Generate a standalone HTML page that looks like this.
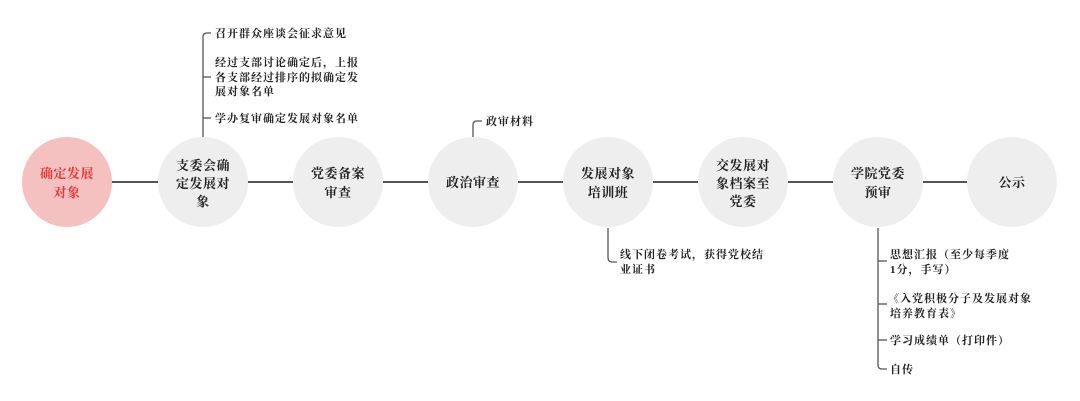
<!DOCTYPE html>
<html><head><meta charset="utf-8"><style>
html,body{margin:0;padding:0;background:#fff;}
svg{display:block;}
text{font-family:"Liberation Serif","Noto Serif CJK SC",serif;}
.n{font-size:13px;font-weight:bold;fill:#222;text-anchor:middle;letter-spacing:0.5px;}
.l{font-size:11px;fill:#222;letter-spacing:1px;font-weight:bold;}
</style></head><body>
<svg width="1080" height="401" viewBox="0 0 1080 401">
<g stroke="#555" stroke-width="2" fill="none">
<line x1="67" y1="182" x2="1012" y2="182"/>
</g>
<g stroke="#555" stroke-width="1.3" fill="none">
<path d="M203 137 V37 Q203 33 207 33 H211"/>
<path d="M203 77 H211"/>
<path d="M203 118 H211"/>
<path d="M473 137 V125 Q473 121 477 121 H482"/>
<path d="M608 228 V257 Q608 262 612 262 H617"/>
<path d="M878 228 V365 Q878 369 882 369 H887"/>
<path d="M878 261 H887"/>
<path d="M878 304 H887"/>
<path d="M878 340 H887"/>
</g>
<circle cx="67" cy="182" r="45" fill="#f4c0c0"/>
<circle cx="203" cy="182" r="45" fill="#eeeeee"/>
<circle cx="338" cy="182" r="45" fill="#eeeeee"/>
<circle cx="473" cy="182" r="45" fill="#eeeeee"/>
<circle cx="608" cy="182" r="45" fill="#eeeeee"/>
<circle cx="743" cy="182" r="45" fill="#eeeeee"/>
<circle cx="878" cy="182" r="45" fill="#eeeeee"/>
<circle cx="1012" cy="182" r="45" fill="#eeeeee"/>
<text class="n" x="67" y="178" style="fill:#e53935">确定发展</text>
<text class="n" x="67" y="197" style="fill:#e53935">对象</text>
<text class="n" x="203" y="170">支委会确</text>
<text class="n" x="203" y="188">定发展对</text>
<text class="n" x="203" y="206">象</text>
<text class="n" x="338" y="178">党委备案</text>
<text class="n" x="338" y="197">审查</text>
<text class="n" x="473" y="187">政治审查</text>
<text class="n" x="608" y="178">发展对象</text>
<text class="n" x="608" y="197">培训班</text>
<text class="n" x="743" y="170">交发展对</text>
<text class="n" x="743" y="188">象档案至</text>
<text class="n" x="743" y="206">党委</text>
<text class="n" x="878" y="178">学院党委</text>
<text class="n" x="878" y="197">预审</text>
<text class="n" x="1012" y="187">公示</text>
<text class="l" x="215" y="37">召开群众座谈会征求意见</text>
<text class="l" x="215" y="66">经过支部讨论确定后，上报</text>
<text class="l" x="215" y="81">各支部经过排序的拟确定发</text>
<text class="l" x="215" y="95">展对象名单</text>
<text class="l" x="215" y="122">学办复审确定发展对象名单</text>
<text class="l" x="486" y="125">政审材料</text>
<text class="l" x="620" y="258">线下闭卷考试，获得党校结</text>
<text class="l" x="620" y="273">业证书</text>
<text class="l" x="890" y="258">思想汇报（至少每季度</text>
<text class="l" x="890" y="273">1分，手写）</text>
<text class="l" x="888" y="302">《入党积极分子及发展对象</text>
<text class="l" x="890" y="317">培养教育表》</text>
<text class="l" x="890" y="344">学习成绩单（打印件）</text>
<text class="l" x="890" y="373">自传</text>
</svg>
</body></html>
